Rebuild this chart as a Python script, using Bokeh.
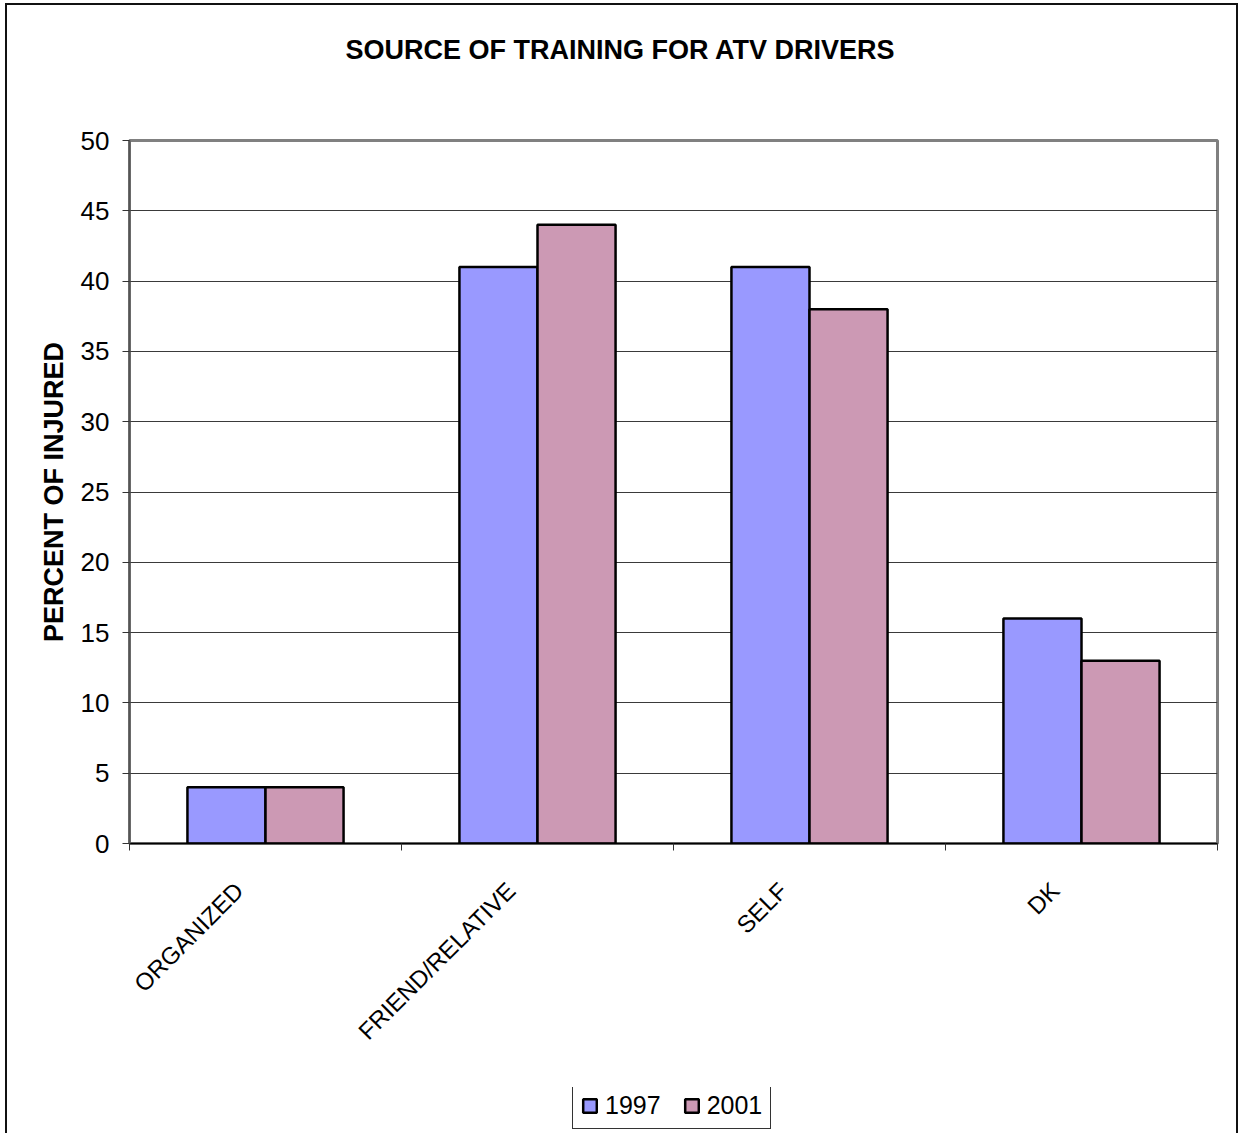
from bokeh.plotting import figure
from bokeh.models import ColumnDataSource, Range1d, FixedTicker, Legend, LegendItem
from bokeh.layouts import column
from bokeh.transform import dodge
from bokeh.embed import file_html
from bokeh.resources import INLINE
import math

# Survey data: source of training reported by injured ATV drivers
categories = ["ORGANIZED", "FRIEND/RELATIVE", "SELF", "DK"]
series_names = ["1997", "2001"]
values_1997 = [4, 41, 41, 16]
values_2001 = [4, 44, 38, 13]
y_ticks = [0, 5, 10, 15, 20, 25, 30, 35, 40, 45, 50]

FONT = "Liberation Sans"
COLOR_1997 = "#9999FF"
COLOR_2001 = "#CC99B4"
BAR_W = 0.287
WIDTH = 1229

centers = [i + 0.5 for i in range(len(categories))]
source = ColumnDataSource(dict(x=centers, cat=categories,
                               v1997=values_1997, v2001=values_2001))


def add_bars(fig):
    a = fig.vbar(x=dodge("x", -BAR_W / 2, range=fig.x_range), top="v1997", width=BAR_W,
                 source=source, fill_color=COLOR_1997, line_color="black", line_width=2.5)
    b = fig.vbar(x=dodge("x", BAR_W / 2, range=fig.x_range), top="v2001", width=BAR_W,
                 source=source, fill_color=COLOR_2001, line_color="black", line_width=2.5)
    return a, b


def strip(height):
    """A bare figure used to hold a title or a legend above/below the chart."""
    f = figure(width=WIDTH, height=height,
               x_range=Range1d(0, len(categories)), y_range=Range1d(0, 1),
               output_backend="svg", toolbar_location=None,
               x_axis_location=None, y_axis_location=None, min_border=0)
    f.grid.grid_line_color = None
    f.outline_line_color = None
    f.background_fill_color = "white"
    f.border_fill_color = "white"
    return f


# ---- title strip ----------------------------------------------------------
pt = strip(90)
pt.title.text = "SOURCE OF TRAINING FOR ATV DRIVERS"
pt.title.align = "left"
pt.title.offset = 216
pt.title.vertical_align = "bottom"
pt.title.standoff = 54
pt.title.text_color = "black"
pt.title.text_font = FONT
pt.title.text_font_size = "27px"
pt.title.text_font_style = "bold"

# ---- main chart -----------------------------------------------------------
p = figure(width=WIDTH, height=992,
           x_range=Range1d(0, len(categories)), y_range=Range1d(0, 50),
           output_backend="svg", toolbar_location=None,
           min_border_left=122, min_border_right=19,
           min_border_top=45, min_border_bottom=244)

add_bars(p)

p.outline_line_color = "#808080"
p.outline_line_width = 3
p.background_fill_color = "white"
p.border_fill_color = "white"

p.xgrid.grid_line_color = None
p.ygrid.grid_line_color = "#3a3a3a"
p.ygrid.grid_line_width = 1

yax = p.yaxis[0]
yax.ticker = FixedTicker(ticks=y_ticks)
yax.axis_label = "PERCENT OF INJURED"
yax.axis_label_text_color = "black"
yax.axis_label_text_font = FONT
yax.axis_label_text_font_size = "27px"
yax.axis_label_text_font_style = "bold"
yax.axis_label_standoff = 9
yax.major_label_text_font = FONT
yax.major_label_text_font_size = "26px"
yax.major_label_text_color = "black"
yax.major_label_standoff = 13
yax.major_tick_out = 7
yax.major_tick_in = 0
yax.minor_tick_line_color = None
yax.axis_line_color = "#555555"
yax.axis_line_width = 2
yax.major_tick_line_color = "#333333"

# slanted labels near category centres, ticks at category boundaries
label_shift = -0.097
label_ticks = [c + label_shift for c in centers]
xax = p.below[0]
xax.ticker = FixedTicker(ticks=label_ticks, minor_ticks=list(range(len(categories) + 1)))
xax.major_label_overrides = {t: cat for t, cat in zip(label_ticks, categories)}
xax.major_label_orientation = math.pi / 4
xax.major_label_text_font = FONT
xax.major_label_text_font_size = "24px"
xax.major_label_text_color = "black"
xax.major_label_standoff = 36
xax.major_tick_out = 0
xax.major_tick_in = 0
xax.minor_tick_out = 7
xax.minor_tick_in = 0
xax.minor_tick_line_color = "#333333"
xax.axis_line_color = "black"
xax.axis_line_width = 1.5

# ---- legend strip ---------------------------------------------------------
pl = strip(46)
l1, l2 = add_bars(pl)
l1.visible = False
l2.visible = False

legend = Legend(items=[LegendItem(label=series_names[0], renderers=[l1]),
                       LegendItem(label=series_names[1], renderers=[l2])],
                location=(443, 4), orientation="horizontal")
legend.label_text_font = FONT
legend.label_text_font_size = "25px"
legend.label_text_color = "black"
legend.glyph_width = 17
legend.glyph_height = 17
legend.label_standoff = 7
legend.spacing = 22
legend.padding = 8
legend.margin = 0
legend.inactive_fill_alpha = 0
legend.border_line_color = "#333333"
legend.border_line_alpha = 1
legend.border_line_width = 1.5
legend.background_fill_alpha = 1
pl.add_layout(legend, "center")

layout = column(pt, p, pl, spacing=0)
layout.margin = (3, 0, 0, 5)
layout.styles = {"border-top": "2px solid #111", "border-left": "2px solid #111",
                 "border-right": "2px solid #111"}

open("out.html", "w").write(file_html(layout, INLINE))
